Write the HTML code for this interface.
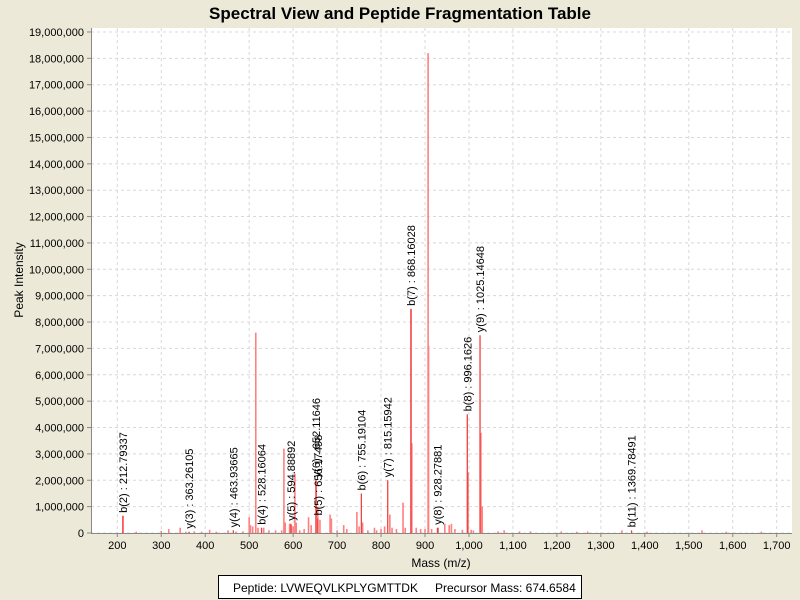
<!DOCTYPE html>
<html><head><meta charset="utf-8"><style>
body{margin:0;background:#ECE9D8;font-family:"Liberation Sans",sans-serif;}
svg{display:block}
</style></head><body>
<svg id="c" width="800" height="600" xmlns="http://www.w3.org/2000/svg">
<rect width="800" height="600" fill="#ECE9D8"/>
<text x="400" y="19" text-anchor="middle" font-size="17" font-weight="bold" fill="#000">Spectral View and Peptide Fragmentation Table</text>
<rect x="91" y="28" width="701" height="505" fill="#fff"/>
<g id="grid"></g><g id="bars"></g><g id="ann"></g><g id="axes"></g>
<text x="441" y="567" text-anchor="middle" font-size="12">Mass (m/z)</text>
<text transform="translate(23,280) rotate(-90)" text-anchor="middle" font-size="12">Peak Intensity</text>
<g>
<rect x="218.5" y="575.5" width="363" height="23" fill="#fff" stroke="#000"/>
<text x="233" y="592" font-size="12">Peptide: LVWEQVLKPLYGMTTDK</text>
<text x="435" y="592" font-size="12">Precursor Mass: 674.6584</text>
</g>
</svg>
<script>
const peakMass=[212.8,243,300,317,343,356,375,392,410,425,452,470,486,500,503,508,515,520,533,545,560,574,579,582,592,596,600,604,607,615,625,635,641,652,656,661,684,687,700,715,722,745,750,758,770,785,790,800,808,820,825,835,850,855,868,870,880,890,900,907,908,915,930,945,955,960,968,985,998,1005,1010,1027,1030,1066,1080,1115,1140,1210,1245,1270,1348,1405,1530,1585,1665];
const peakInt=[0.65,0.05,0.08,0.15,0.2,0.05,0.06,0.05,0.12,0.05,0.1,0.05,0.06,0.6,0.3,0.25,7.6,0.2,0.2,0.1,0.1,0.1,3.2,0.4,0.35,0.3,0.25,2.25,0.4,0.1,0.15,0.6,0.3,2.0,1.0,0.5,0.7,0.55,0.1,0.3,0.15,0.8,0.25,0.4,0.1,0.2,0.1,0.15,0.25,0.7,0.2,0.15,1.15,0.2,8.5,3.4,0.2,0.15,0.15,18.2,7.1,0.15,0.2,0.35,0.3,0.35,0.15,0.12,2.3,0.12,0.1,3.8,1.0,0.06,0.1,0.06,0.06,0.06,0.05,0.05,0.1,0.05,0.1,0.05,0.05];
const annLabels=["b(2) : 212.79337","y(3) : 363.26105","y(4) : 463.93665","b(4) : 528.16064","y(5) : 594.88892","y(6) : 652.11646","b(5) : 656.17498","b(6) : 755.19104","y(7) : 815.15942","b(7) : 868.16028","y(8) : 928.27881","b(8) : 996.1626","y(9) : 1025.14648","b(11) : 1369.78491"];
const annMass=[212.79,363.26,463.94,528.16,594.89,652.12,656.17,755.19,815.16,868.16,928.28,996.16,1025.15,1369.78];
const annInt=[0.65,0.05,0.1,0.2,0.35,2.0,0.55,1.5,2.0,8.5,0.2,4.5,7.5,0.1];
const xTicks=[200,300,400,500,600,700,800,900,1000,1100,1200,1300,1400,1500,1600,1700];
const yTicks=[0,1,2,3,4,5,6,7,8,9,10,11,12,13,14,15,16,17,18,19];
const NS="http://www.w3.org/2000/svg";
const X=m=>117.3+(m-200)*0.4396;
const Y=v=>533-v*26.37;
function mk(p,t,a){const e=document.createElementNS(NS,t);for(const k in a)e.setAttribute(k,a[k]);p.appendChild(e);return e;}
const grid=document.getElementById('grid'),axes=document.getElementById('axes'),bars=document.getElementById('bars'),ann=document.getElementById('ann');
const fmt=n=>n.toLocaleString('en-US');
xTicks.forEach(t=>{const x=X(t);
 const g=mk(grid,'line',{x1:x,x2:x,y1:28,y2:533,stroke:'#d8d8d8','stroke-dasharray':'3,3'});
 
 
 mk(axes,'line',{x1:x,x2:x,y1:533,y2:537,stroke:'#888'});
 const l=mk(axes,'text',{x:x,y:549,'text-anchor':'middle','font-size':'11'});l.textContent=fmt(t);
 
 });
yTicks.forEach(t=>{const y=Y(t);
 const g=mk(grid,'line',{x1:91,x2:792,y1:y,y2:y,stroke:'#d8d8d8','stroke-dasharray':'3,3'});
 
 
 mk(axes,'line',{x1:87,x2:91,y1:y,y2:y,stroke:'#888'});
 const l=mk(axes,'text',{x:84,y:y+4,'text-anchor':'end','font-size':'11'});l.textContent=fmt(t*1000000);
 
 });
mk(axes,'line',{x1:91.5,x2:91.5,y1:28,y2:533,stroke:'#888'});
mk(axes,'line',{x1:91,x2:792,y1:533.5,y2:533.5,stroke:'#888'});
peakMass.forEach((m,i)=>{const x=X(m);
 const b=mk(bars,'line',{x1:x,x2:x,y1:533,y2:Y(peakInt[i]),stroke:'#ff8080','stroke-width':1.6});
 
 });
annMass.forEach((m,i)=>{const x=X(m),y=Y(annInt[i]);
 const b=mk(ann,'line',{x1:x,x2:x,y1:533,y2:y,stroke:'#f04040','stroke-width':1.3});
 
 
 const t=mk(ann,'text',{transform:`translate(${x+4},${y-3}) rotate(-90)`,'font-size':'11'});t.textContent=annLabels[i];
 
 });
</script>
</body></html>
